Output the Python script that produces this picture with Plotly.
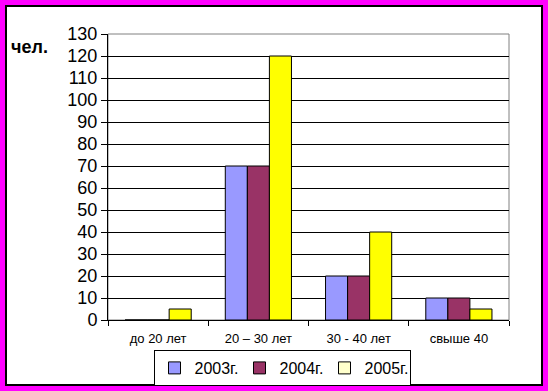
import plotly.graph_objects as go

categories = ["до 20 лет", "20 – 30 лет", "30 - 40 лет", "свыше 40"]
series_names = ["2003г.", "2004г.", "2005г."]
v2003 = [0, 70, 20, 10]
v2004 = [0, 70, 20, 10]
v2005 = [5, 120, 40, 5]
y_ticks = list(range(0, 131, 10))

bar_colors = ["#9999FF", "#993366", "#FFFF00"]
legend_colors = ["#9999FF", "#993366", "#FFFFCC"]

W, H = 548, 391
L, R, T, B = 108, 509, 34, 320  # plot area in pixels

fig = go.Figure()
for i, (name, vals) in enumerate(zip(series_names, [v2003, v2004, v2005])):
    fig.add_trace(go.Bar(
        x=categories, y=vals, name=name, offsetgroup=str(i),
        marker=dict(color=bar_colors[i], line=dict(color="black", width=1)),
        showlegend=False,
    ))
for i, name in enumerate(series_names):
    fig.add_trace(go.Bar(
        x=[categories[0]], y=[None], name=name, offsetgroup=str(i),
        marker=dict(color=legend_colors[i], line=dict(color="black", width=1)),
        showlegend=True,
    ))

pw, ph = R - L, B - T
def px_x(p):
    return (p - L) / pw
def px_y(p):
    return (B - p) / ph

fig.add_shape(type="rect", xref="paper", yref="paper",
              x0=px_x(6), x1=px_x(542), y0=px_y(385), y1=px_y(6),
              line=dict(color="black", width=2), fillcolor="white", layer="below")
fig.add_shape(type="rect", xref="paper", yref="paper",
              x0=0, x1=1, y0=0, y1=1,
              line=dict(color="#808080", width=1), fillcolor="rgba(0,0,0,0)", layer="below")

fig.add_annotation(text="<b>чел.</b>", xref="paper", yref="paper",
                   x=px_x(9), y=px_y(47), xanchor="left", yanchor="middle",
                   showarrow=False, font=dict(family="Arial", size=18, color="black"))

fig.update_layout(
    width=W, height=H,
    margin=dict(l=L, r=W - R, t=T, b=H - B, pad=0, autoexpand=False),
    paper_bgcolor="#FF00FF",
    plot_bgcolor="white",
    barmode="group",
    bargap=0.34,
    bargroupgap=0,
    font=dict(family="Arial", color="black"),
    showlegend=True,
    legend=dict(
        orientation="h", x=px_x(282), xanchor="center", y=px_y(386), yanchor="bottom",
        bgcolor="white", bordercolor="black", borderwidth=1,
        font=dict(family="Arial", size=16, color="black"),
        itemwidth=30, tracegroupgap=0, entrywidth=40,
    ),
    xaxis=dict(
        type="category", tickson="boundaries", ticks="outside", ticklen=5,
        tickcolor="black", showline=True, linecolor="black", linewidth=1,
        showgrid=False, tickfont=dict(family="Arial", size=13, color="black"),
        ticklabelstandoff=6, automargin=False,
    ),
    yaxis=dict(
        range=[0, 130], tickvals=y_ticks, ticks="outside", ticklen=6,
        tickcolor="black", showline=True, linecolor="black", linewidth=1,
        showgrid=True, gridcolor="black", gridwidth=1, zeroline=False,
        tickfont=dict(family="Arial", size=18, color="black"),
        automargin=False,
    ),
)

fig.write_html("out.html", config={"displayModeBar": False},
               post_script="document.body.style.margin='0px';document.body.style.padding='0px';")
